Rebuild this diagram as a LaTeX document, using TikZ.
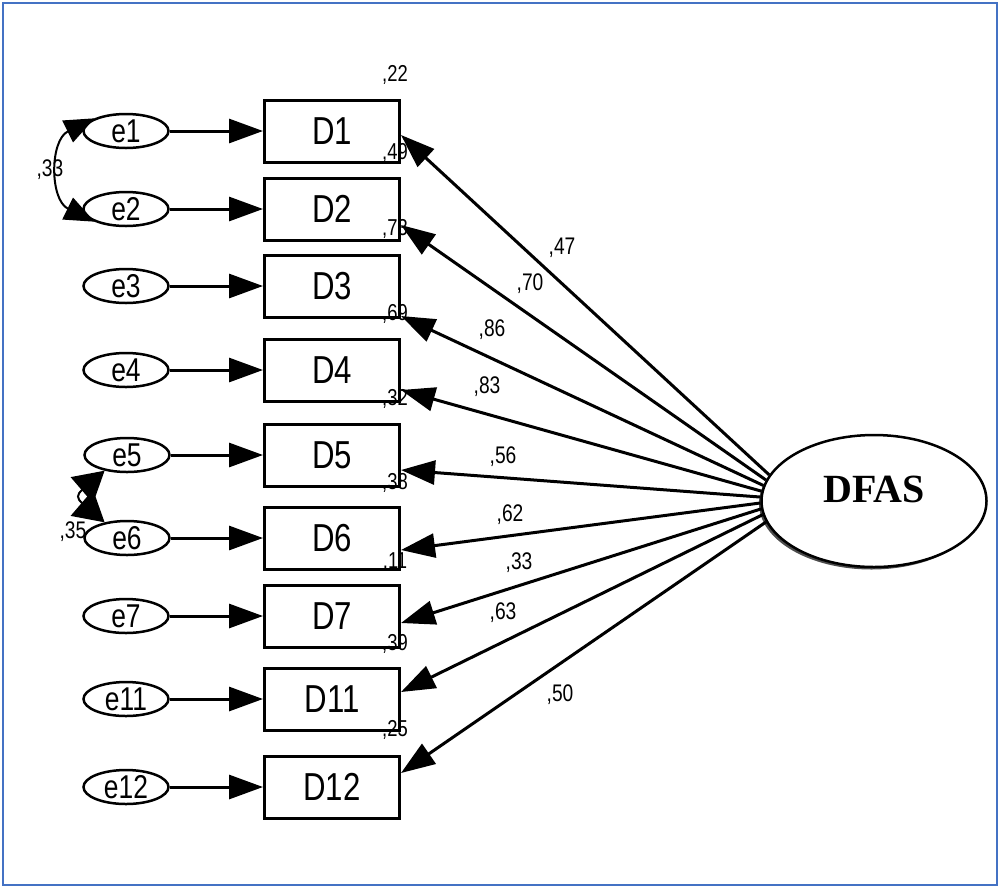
\documentclass[tikz,border=0pt]{standalone}
\usepackage{fontspec}
\newfontfamily\narrowsans[FakeStretch=0.8]{Liberation Sans}
\newfontfamily\titleserif{Liberation Serif}
\usetikzlibrary{arrows.meta,shapes.geometric,shadows}
\definecolor{frameblue}{HTML}{4472C4}

\begin{document}
\begin{tikzpicture}[x=1pt,y=-1pt,line width=3pt,
	bigtip/.style={-{Triangle[length=34pt,width=24pt]}},
	covtip/.style={line width=2pt,{Triangle[length=30pt,width=24pt]}-{Triangle[length=30pt,width=24pt]}},
	shortcov/.style={line width=2pt,{Triangle[length=30pt,width=34pt]}-{Triangle[length=30pt,width=34pt]}},
	coef/.style={font=\fontsize{24}{26}\narrowsans,inner sep=0pt}]
	\useasboundingbox (0,0) rectangle (1000,887);
	\draw[frameblue,line width=2pt] (3,3) rectangle (997,885);

	% observed items
	\begin{scope}[every node/.style={rectangle,draw,line width=3pt,
		minimum width=135pt,minimum height=62pt,inner sep=0pt,
		font=\fontsize{39}{41}\narrowsans}]
	\node (D1) at (332,131) {D1};
	\node (D2) at (332,209) {D2};
	\node (D3) at (332,286) {D3};
	\node (D4) at (332,370) {D4};
	\node (D5) at (332,455) {D5};
	\node (D6) at (332,538) {D6};
	\node (D7) at (332,616) {D7};
	\node (D11) at (332,699) {D11};
	\node (D12) at (332,787) {D12};
	\end{scope}

	% error terms
	\begin{scope}[every node/.style={ellipse,draw,line width=2.5pt,
		minimum width=85pt,minimum height=34pt,inner sep=0pt,
		font=\fontsize{33}{35}\narrowsans}]
	\node (e1) at (126,131) {e1};
	\node (e2) at (126,209) {e2};
	\node (e3) at (126,286) {e3};
	\node (e4) at (126,370) {e4};
	\node (e5) at (127,455) {e5};
	\node (e6) at (127,538) {e6};
	\node (e7) at (126,616) {e7};
	\node (e11) at (126,699) {e11};
	\node (e12) at (126,787) {e12};
	\end{scope}

	\node (DFAS) at (874,501) [ellipse,draw,line width=2.5pt,fill=white,
		minimum width=225pt,minimum height=132pt,inner sep=0pt,text depth=24pt,
		drop shadow={shadow xshift=-2.5pt,shadow yshift=-2.5pt,fill=black!70,opacity=1},
		font=\fontsize{40}{42}\titleserif\bfseries] {DFAS};

	\draw[bigtip] (e1) -- (D1);
	\draw[bigtip] (e2) -- (D2);
	\draw[bigtip] (e3) -- (D3);
	\draw[bigtip] (e4) -- (D4);
	\draw[bigtip] (e5) -- (D5);
	\draw[bigtip] (e6) -- (D6);
	\draw[bigtip] (e7) -- (D7);
	\draw[bigtip] (e11) -- (D11);
	\draw[bigtip] (e12) -- (D12);

	% loadings
	\draw[bigtip] (DFAS.166) -- ([yshift=-4pt]D1.east);
	\draw[bigtip] (DFAS.169) -- ([yshift=-16pt]D2.east);
	\draw[bigtip] (DFAS.172) -- ([yshift=-30pt]D3.east);
	\draw[bigtip] (DFAS.175) -- ([yshift=-20pt]D4.east);
	\draw[bigtip] (DFAS.178) -- ([yshift=-15pt]D5.east);
	\draw[bigtip] (DFAS.181) -- ([yshift=-12pt]D6.east);
	\draw[bigtip] (DFAS.184) -- ([yshift=-7pt]D7.east);
	\draw[bigtip] (DFAS.187) -- ([yshift=7pt]D11.east);
	\draw[bigtip] (DFAS.191) -- ([yshift=14pt]D12.east);

	\node[coef] (l1) at (562,248) {,47};
	\node[coef] (l2) at (530,284) {,70};
	\node[coef] (l3) at (492,330) {,86};
	\node[coef] (l4) at (487,387) {,83};
	\node[coef] (l5) at (503,457) {,56};
	\node[coef] (l6) at (510,515) {,62};
	\node[coef] (l7) at (519,563) {,33};
	\node[coef] (l8) at (503,613) {,63};
	\node[coef] (l9) at (560,695) {,50};

	% squared multiple correlations
	\begin{scope}[every node/.style={coef,font=\fontsize{23}{25}\narrowsans}]
	\node (r1) at ([xshift=-6pt,yshift=24pt]D1.north east) {,22};
	\node (r2) at ([xshift=-6pt,yshift=24pt]D2.north east) {,49};
	\node (r3) at ([xshift=-6pt,yshift=25pt]D3.north east) {,73};
	\node (r4) at ([xshift=-6pt,yshift=24pt]D4.north east) {,69};
	\node (r5) at ([xshift=-6pt,yshift=24pt]D5.north east) {,32};
	\node (r6) at ([xshift=-6pt,yshift=23pt]D6.north east) {,38};
	\node (r7) at ([xshift=-6pt,yshift=21pt]D7.north east) {,11};
	\node (r8) at ([xshift=-6pt,yshift=23pt]D11.north east) {,39};
	\node (r9) at ([xshift=-6pt,yshift=25pt]D12.north east) {,25};
	\end{scope}

	% error covariances
	\draw[covtip] (e1.158) .. controls +(-45,22) and +(-45,-22) .. (e2.202);
	\draw[shortcov] (e5.215) .. controls +(-28,24) and +(-28,-24) .. (e6.145);
	\node[coef] (c1) at (50,170) {,33};
	\node[coef] (c2) at (73,532) {,35};
\end{tikzpicture}
\end{document}
